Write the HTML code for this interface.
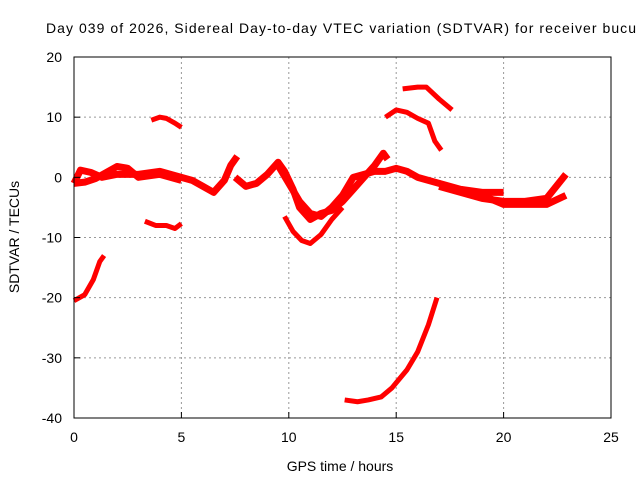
<!DOCTYPE html>
<html><head><meta charset="utf-8"><style>
body{margin:0;background:#fff;}
svg{display:block;font-family:"Liberation Sans",sans-serif;}
</style></head><body>
<svg id="chart" width="640" height="480">
<text x="46" y="33" font-size="14" fill="#000" textLength="590" lengthAdjust="spacing">Day 039 of 2026, Sidereal Day-to-day VTEC variation (SDTVAR) for receiver bucu</text>
<g id="grid"></g>
<g id="series"></g>
<rect x="74" y="57" width="537" height="361" fill="none" stroke="#000" stroke-width="1"/>
<g id="ticks"></g>
<text x="340" y="471" font-size="14" text-anchor="middle">GPS time / hours</text>
<text transform="translate(19,237) rotate(-90)" font-size="14" text-anchor="middle">SDTVAR / TECUs</text>
</svg>
<script>
const xTicks=[0,5,10,15,20,25];
const yTicks=[20,10,0,-10,-20,-30,-40];
const s1=[[0,-20.5],[0.5,-19.5],[0.9,-17],[1.2,-14],[1.4,-13]];
const s2=[[3.6,9.5],[4.0,10],[4.3,9.8],[4.7,9],[5.0,8.3]];
const s3=[[3.3,-7.3],[3.8,-8],[4.3,-8],[4.7,-8.5],[5.0,-7.7]];
const s4=[[0,-1],[0.3,1.2],[0.8,0.8],[1.3,0],[2,0.5],[3,0.5],[4,1],[5,0],[5.5,-0.5],[6,-1.5],[6.5,-2.5],[7,-0.5],[7.3,2],[7.6,3.5]];
const s5=[[0,-1],[0.5,-0.8],[1,-0.2],[1.5,0.8],[2,1.8],[2.5,1.5],[3,0],[4,0.5],[5,-0.5]];
const s6=[[7.5,0],[8,-1.5],[8.5,-1],[9,0.5],[9.5,2.5],[9.8,1],[10.2,-2],[10.5,-5],[11,-7],[11.5,-6],[12,-5.5],[12.5,-4],[13,-2],[13.5,0],[14,2],[14.4,4],[14.6,3]];
const s7=[[9.5,2],[10,-1],[10.5,-4],[11,-6],[11.5,-6.5],[12,-5],[12.5,-3],[13,0],[13.5,0.5],[14,1],[14.5,1],[15,1.5],[15.5,1],[16,0],[17,-1],[18,-2],[19,-2.5],[20,-2.5]];
const s8=[[17,-1.5],[18,-2.5],[19,-3.5],[20,-4],[21,-4],[22,-3.5],[22.9,0.5]];
const s9=[[18,-2],[19,-3],[20,-4.5],[21,-4.5],[22,-4.5],[22.9,-3]];
const s10=[[9.8,-6.5],[10.2,-9],[10.6,-10.5],[11,-11],[11.5,-9.5],[12,-7],[12.5,-5]];
const s11=[[14.5,10],[15,11.2],[15.5,10.8],[16,9.8],[16.5,9],[16.8,6],[17.1,4.5]];
const s12=[[15.3,14.7],[16,15],[16.4,15],[17,13],[17.6,11.2]];
const s13=[[12.6,-37],[13.2,-37.3],[13.7,-37],[14.3,-36.5],[14.8,-35],[15.5,-32],[16,-29],[16.5,-24.5],[16.9,-20]];
const allSeries=[s1,s2,s3,s4,s5,s6,s7,s8,s9,s10,s11,s12,s13];
const X=v=>74+v*537/25;
const Y=v=>57+(20-v)*361/60;
const NS="http://www.w3.org/2000/svg";
const grid=document.getElementById('grid'),ticks=document.getElementById('ticks'),ser=document.getElementById('series');
function mk(tag,at,parent){const e=document.createElementNS(NS,tag);for(const k in at)e.setAttribute(k,at[k]);parent.appendChild(e);return e;}
xTicks.forEach(t=>{
 if(t>0&&t<25){const g=mk('line',{x1:X(t),x2:X(t),y1:57,y2:418,stroke:'#999','stroke-dasharray':'2,3'},grid);
 
 }
 const tk=mk('line',{x1:X(t),x2:X(t),y1:418,y2:412,stroke:'#000'},ticks);
 
 
 const l=mk('text',{x:X(t),y:442,'font-size':14,'text-anchor':'middle'},ticks);l.textContent=t;
 
 
});
yTicks.forEach(t=>{
 if(t<20&&t>-40){const g=mk('line',{x1:74,x2:611,y1:Y(t),y2:Y(t),stroke:'#999','stroke-dasharray':'2,3'},grid);
 
 }
 const tk=mk('line',{x1:74,x2:80,y1:Y(t),y2:Y(t),stroke:'#000'},ticks);
 
 
 const l=mk('text',{x:62,y:Y(t)+5,'font-size':14,'text-anchor':'end'},ticks);l.textContent=t;
 
 
});
allSeries.forEach((s,i)=>{
 const p=mk('polyline',{points:s.map(d=>X(d[0])+','+Y(d[1])).join(' '),fill:'none',stroke:'#ff0000','stroke-width':(i>=3&&i<=8)?7:5,'stroke-linejoin':'round'},ser);
 
 
});
</script>
</body></html>
